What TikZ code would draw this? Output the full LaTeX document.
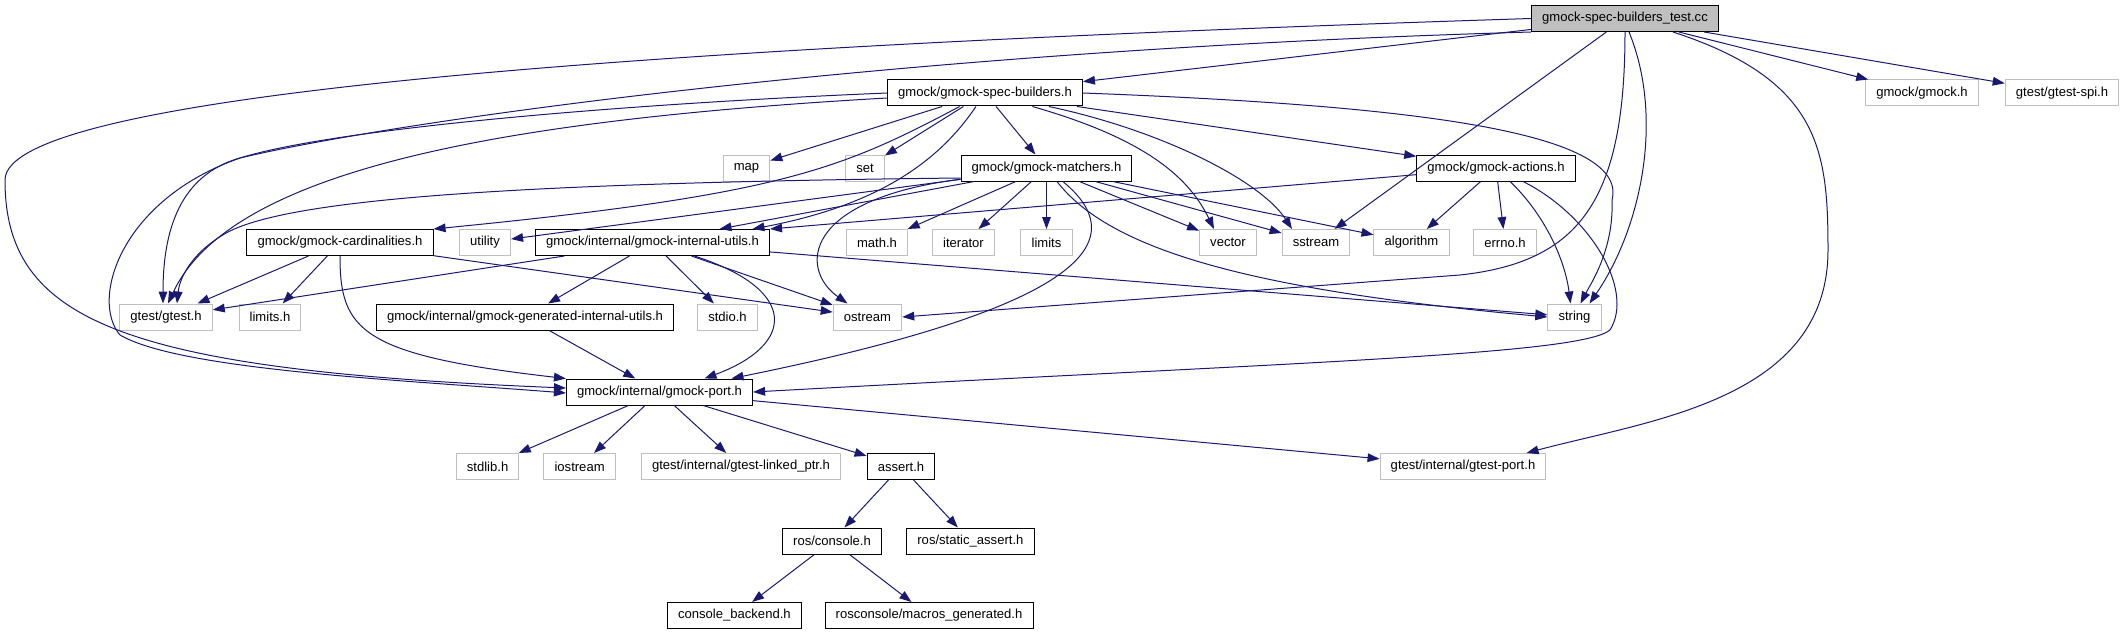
\documentclass[tikz,border=0pt]{standalone}
\usepackage{fontspec}
\setmainfont{Liberation Sans}
\usetikzlibrary{arrows.meta,calc,positioning}

\definecolor{edgeblue}{HTML}{191970}
\definecolor{boxgray}{HTML}{BFBFBF}

\begin{document}
\begin{tikzpicture}[%
    x=0.75pt, y=-0.75pt,
    >={Triangle[length=9pt,width=6.5pt]},
    every node/.style={font=\fontsize{9.8}{11}\selectfont, inner xsep=8pt,
      minimum height=19.5pt, fill=white, line width=0.75pt},
    hdr/.style={draw=black},
    ext/.style={draw=boxgray},
    root/.style={draw=black, fill=boxgray},
    every edge/.style={draw=edgeblue, line width=0.75pt},
    dep/.style={->, draw=edgeblue, line width=0.75pt}
  ]
  \useasboundingbox (0,0) rectangle (2125,635);

  \node[root] (test) at (1625,18.5) {gmock-spec-builders\_test.cc};
  \node[hdr] (specb) at (985,93) {gmock/gmock-spec-builders.h};
  \node[ext] (gmockh) at (1922,93) {gmock/gmock.h};
  \node[ext] (spi) at (2062,93) {gtest/gtest-spi.h};
  \node[ext] (map) at (746.5,168) {map};
  \node[ext] (set) at (865,168) {set};
  \node[hdr] (matchers) at (1046.5,168) {gmock/gmock-matchers.h};
  \node[hdr] (actions) at (1496,168) {gmock/gmock-actions.h};
  \node[hdr] (card) at (340,242.5) {gmock/gmock-cardinalities.h};
  \node[ext] (utility) at (485,242.5) {utility};
  \node[hdr] (iutils) at (652.5,242.5) {gmock/internal/gmock-internal-utils.h};
  \node[ext] (math) at (877,242.5) {math.h};
  \node[ext] (iterator) at (963.5,242.5) {iterator};
  \node[ext] (limits) at (1046.5,242.5) {limits};
  \node[ext] (vector) at (1228,242.5) {vector};
  \node[ext] (sstream) at (1316,242.5) {sstream};
  \node[ext] (algorithm) at (1411.5,242.5) {algorithm};
  \node[ext] (errno) at (1505,242.5) {errno.h};
  \node[ext] (gtest) at (166,317) {gtest/gtest.h};
  \node[ext] (limitsh) at (270,317) {limits.h};
  \node[hdr] (generated) at (525,317) {gmock/internal/gmock-generated-internal-utils.h};
  \node[ext] (stdio) at (727.5,317) {stdio.h};
  \node[ext] (ostream) at (867.5,317) {ostream};
  \node[ext] (string) at (1574.5,317) {string};
  \node[hdr] (port) at (659.5,392) {gmock/internal/gmock-port.h};
  \node[ext] (stdlib) at (487.6,466.5) {stdlib.h};
  \node[ext] (iostream) at (579.6,466.5) {iostream};
  \node[ext] (linked) at (741,466.5) {gtest/internal/gtest-linked\_ptr.h};
  \node[hdr] (assert) at (901,466.5) {assert.h};
  \node[ext] (gport) at (1463,466.5) {gtest/internal/gtest-port.h};
  \node[hdr] (console) at (832,541) {ros/console.h};
  \node[hdr] (static) at (970.4,541) {ros/static\_assert.h};
  \node[hdr] (backend) at (734.4,615.5) {console\_backend.h};
  \node[hdr] (macros) at (929,615.5) {rosconsole/macros\_generated.h};

  \path[->] (test) edge (specb);
  \path[->] (test) edge (sstream);
  \path[->] (test) edge (gmockh);
  \path[->] (test) edge (spi);
  \draw[dep] (test.south west) .. controls (900,50) and (400,120) .. (240,158)
    .. controls (180,175) and (163,230) .. ($(gtest.north)+(-3,0)$);
  \draw[dep] (test.west) .. controls (700,45) and (5,90) .. (5,180)
    .. controls (5,320) and (120,370) .. ($(port.west)+(0,-4)$);
  \draw[dep] (test.south) .. controls (1625,200) and (1580,262) .. (1460,275) -- (ostream.east);
  \draw[dep] ($(test.south)+(4,0)$) .. controls (1665,120) and (1640,230) .. ($(string.north)+(15,0)$);
  \draw[dep] ($(test.south)+(48,0)$) .. controls (1820,80) and (1828,150) .. (1828,250)
    .. controls (1828,400) and (1650,420) .. (gport.12);

  \path[->] (specb) edge (map);
  \path[->] (specb) edge (set);
  \path[->] (specb) edge (matchers);
  \path[->] (specb) edge (actions);
  \draw[dep] ($(specb.west)+(0,5)$) .. controls (500,120) and (230,170) .. ($(gtest.north)+(2,0)$);
  \draw[dep] (specb.west) .. controls (600,105) and (330,130) .. (240,158)
    .. controls (120,200) and (90,300) .. (120,335)
    .. controls (180,370) and (400,380) .. ($(port.west)+(0,1)$);
  \draw[dep] (specb) .. controls (840,170) and (780,195) .. (card.north east);
  \draw[dep] (specb) .. controls (940,160) and (880,205) .. ($(iutils.north)+(100,0)$);
  \draw[dep] (specb) .. controls (1150,140) and (1190,180) .. ($(vector.north)+(-14,0)$);
  \draw[dep] (specb) .. controls (1160,130) and (1260,180) .. ($(sstream.north)+(-24,0)$);
  \draw[dep] (specb.east) .. controls (1400,105) and (1630,130) .. (1612,200)
    .. controls (1614,250) and (1590,285) .. ($(string.north)+(6,0)$);

  \path[->] (matchers) edge (utility);
  \path[->] (matchers) edge ($(iutils.north)+(67,0)$);
  \path[->] (matchers) edge (math);
  \path[->] (matchers) edge (iterator);
  \path[->] (matchers) edge (limits);
  \path[->] (matchers) edge (vector);
  \path[->] (matchers) edge (sstream);
  \path[->] (matchers) edge (algorithm);
  \draw[dep] ($(matchers.west)+(0,10)$) .. controls (500,183) and (290,200) .. (228,232)
    .. controls (195,250) and (180,275) .. ($(gtest.north)+(11,0)$);
  \draw[dep] (matchers) .. controls (800,200) and (800,270) .. ($(ostream.north)+(-20,0)$);
  \draw[dep] (matchers) .. controls (1140,245) and (1070,310) .. ($(port.north)+(72,0)$);
  \draw[dep] (matchers) .. controls (1110,250) and (1250,290) .. (string.west);

  \path[->] (actions) edge (iutils.north east);
  \path[->] (actions) edge (algorithm);
  \path[->] (actions) edge (errno);
  \draw[dep] (actions) .. controls (1545,215) and (1565,260) .. ($(string.north)+(-4,0)$);
  \draw[dep] (actions) .. controls (1590,215) and (1635,290) .. (1610,330)
    .. controls (1580,355) and (1300,362) .. (port.east);

  \path[->] (card) edge (gtest);
  \path[->] (card) edge (limitsh);
  \path[->] (card) edge (ostream);
  \draw[dep] (card) .. controls (340,330) and (360,355) .. (port.north west);

  \path[->] (iutils) edge (gtest);
  \path[->] (iutils) edge (generated);
  \path[->] (iutils) edge (stdio);
  \path[->] (iutils) edge (ostream);
  \path[->] (iutils) edge (string);
  \draw[dep] (iutils) .. controls (800,290) and (795,345) .. ($(port.north)+(45,0)$);

  \path[->] (generated) edge (port);

  \path[->] (port) edge (stdlib);
  \path[->] (port) edge (iostream);
  \path[->] (port) edge (linked);
  \path[->] (port) edge (assert);
  \path[->] (port) edge (gport);

  \path[->] (assert) edge (console);
  \path[->] (assert) edge (static);
  \path[->] (console) edge (backend);
  \path[->] (console) edge (macros);
\end{tikzpicture}
\end{document}
